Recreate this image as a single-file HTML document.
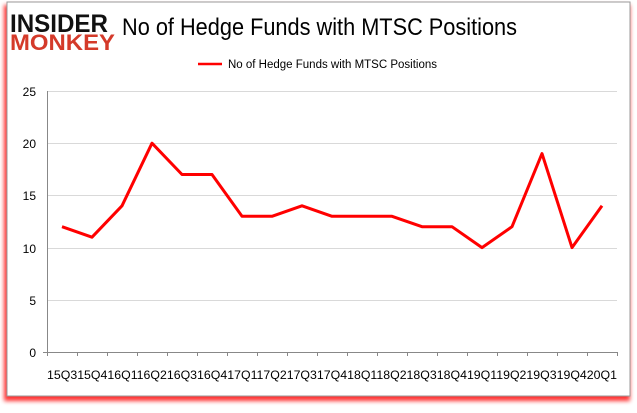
<!DOCTYPE html>
<html><head><style>
body{margin:0;width:637px;height:408px;background:#fff;overflow:hidden;font-family:"Liberation Sans",sans-serif}
</style></head><body>
<svg width="637" height="408" xmlns="http://www.w3.org/2000/svg">
<defs><filter id="b"><feGaussianBlur stdDeviation="2"/></filter></defs>
<rect x="4" y="5" width="626" height="396" fill="#f00" opacity="0.8" filter="url(#b)"/>
<rect x="7" y="2" width="623" height="394" fill="#fff" stroke="#999" stroke-width="1"/>
<text x="10" y="32" font-family="Liberation Sans" font-weight="bold" font-size="25" fill="#111" textLength="98" lengthAdjust="spacingAndGlyphs">INSIDER</text>
<text x="10" y="50" font-family="Liberation Sans" font-weight="bold" font-size="22" fill="#d43a2a" textLength="105" lengthAdjust="spacingAndGlyphs">MONKEY</text>
<text x="122" y="35" font-size="24" fill="#000" font-family="Liberation Sans" textLength="395" lengthAdjust="spacingAndGlyphs">No of Hedge Funds with MTSC Positions</text>
<line x1="198" y1="64" x2="222" y2="64" stroke="#f00" stroke-width="2.5"/>
<text x="228" y="68" font-size="11.5" fill="#000">No of Hedge Funds with MTSC Positions</text>
<g stroke="#d9d9d9" stroke-width="1">
<line x1="47" y1="91.5" x2="617" y2="91.5"/><line x1="47" y1="143.5" x2="617" y2="143.5"/><line x1="47" y1="195.5" x2="617" y2="195.5"/><line x1="47" y1="248.5" x2="617" y2="248.5"/><line x1="47" y1="300.5" x2="617" y2="300.5"/>
</g>
<g stroke="#888" stroke-width="1">
<line x1="47.5" y1="91" x2="47.5" y2="352"/><line x1="47" y1="352.5" x2="617" y2="352.5"/>
<line x1="43" y1="352.5" x2="47" y2="352.5"/>
</g>
<g font-size="12" fill="#000" text-anchor="end">
<text x="36" y="96">25</text><text x="36" y="148">20</text><text x="36" y="200">15</text><text x="36" y="253">10</text><text x="36" y="305">5</text><text x="36" y="357">0</text>
</g>
<g stroke="#888">
<path d="M47.5 352v4M77.5 352v4M107.5 352v4M137.5 352v4M167.5 352v4M197.5 352v4M227.5 352v4M257.5 352v4M287.5 352v4M317.5 352v4M347.5 352v4M377.5 352v4M407.5 352v4M437.5 352v4M467.5 352v4M497.5 352v4M527.5 352v4M557.5 352v4M587.5 352v4M617.5 352v4"/>
</g>
<text x="47" y="379" font-size="12" fill="#000" textLength="570" lengthAdjust="spacingAndGlyphs">15Q315Q416Q116Q216Q316Q417Q117Q217Q317Q418Q118Q218Q318Q419Q119Q219Q319Q420Q1</text>
<polyline fill="none" stroke="#f00" stroke-width="3" stroke-linejoin="round" points="62,226.7 92,237.2 122,205.8 152,143.2 182,174.5 212,174.5 242,216.3 272,216.3 302,205.8 332,216.3 362,216.3 392,216.3 422,226.7 452,226.7 482,247.6 512,226.7 542,153.6 572,247.6 602,205.8"/>
</svg>
</body></html>
